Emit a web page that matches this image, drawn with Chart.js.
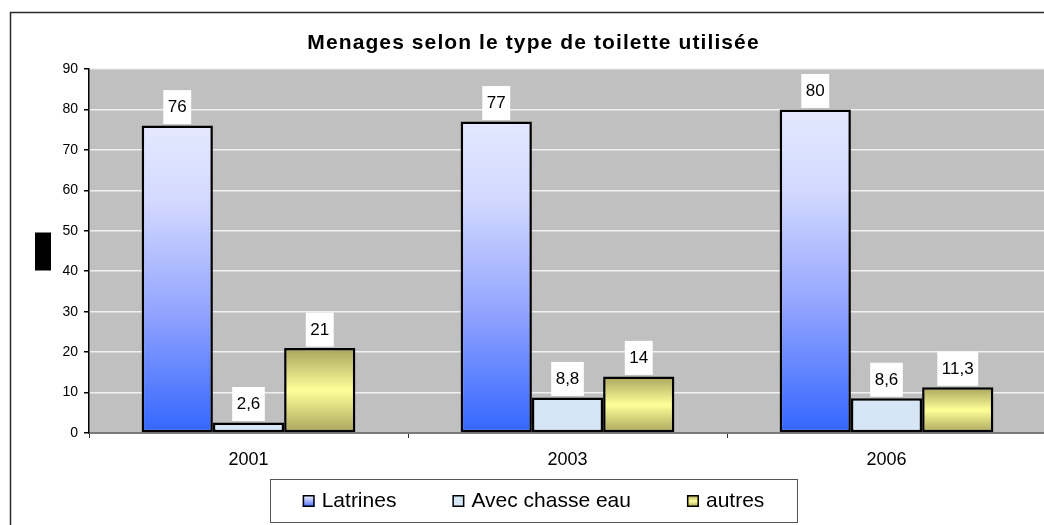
<!DOCTYPE html>
<html>
<head>
<meta charset="utf-8">
<script src="https://cdn.jsdelivr.net/npm/chart.js@4/dist/chart.umd.min.js"></script>
<style>
html,body{margin:0;padding:0;overflow:hidden;background:#fff;width:1044px;height:525px;}
#wrap{position:absolute;left:0;top:0;width:1067px;height:525px;}
</style>
</head>
<body>
<div id="wrap"><canvas id="c" width="1067" height="525"></canvas></div>
<script>
const categories = ['2001', '2003', '2006'];
const latrines = [76, 77, 80];
const chasseEau = [2.6, 8.8, 8.6];
const autres = [21, 14, 11.3];
const seriesNames = ['Latrines', 'Avec chasse eau', 'autres'];
const yMin = 0, yMax = 90, yStep = 10;
const titleText = 'Menages selon le type de toilette utilisée';

const FONT = "'Liberation Sans', Arial, sans-serif";
const blueStops = [[0, '#E4E8FF'], [0.25, '#D2D9FF'], [0.6, '#94A5FF'], [1, '#3366FF']];
const yellowStops = [[0, '#A8A45C'], [0.5, '#FFFF99'], [1, '#A8A45C']];
const chasseColor = '#D7E6F6';

function makeGrad(c, top, bottom, stops) {
  const g = c.createLinearGradient(0, top, 0, bottom);
  stops.forEach(s => g.addColorStop(s[0], s[1]));
  return g;
}
function barGrad(stops) {
  return function (context) {
    const chart = context.chart;
    if (!chart.chartArea || context.raw === undefined) return stops[Math.floor(stops.length / 2)][1];
    const y = chart.scales.y;
    const top = y.getPixelForValue(context.raw);
    const bottom = y.getPixelForValue(0);
    return makeGrad(chart.ctx, top, bottom, stops);
  };
}

const decor = {
  id: 'decor',
  beforeDraw(chart) {
    const c = chart.ctx, a = chart.chartArea;
    c.save();
    c.fillStyle = '#C0C0C0';
    c.fillRect(a.left, a.top, a.right - a.left, a.bottom - a.top);
    c.restore();
  },
  afterDatasetsDraw(chart) {
    const c = chart.ctx;
    c.save();
    c.font = '17px ' + FONT;
    c.textAlign = 'center';
    c.textBaseline = 'alphabetic';
    chart.data.datasets.forEach((ds, di) => {
      const meta = chart.getDatasetMeta(di);
      meta.data.forEach((el, i) => {
        const txt = String(ds.data[i]).replace('.', ',');
        const w = c.measureText(txt).width + 9;
        c.fillStyle = '#FFFFFF';
        c.fillRect(el.x - w / 2, el.y - 35.5, w, 34);
        c.fillStyle = '#000000';
        c.fillText(txt, el.x, el.y - 13.5);
      });
    });
    c.restore();
  },
  afterDraw(chart) {
    const c = chart.ctx, a = chart.chartArea;
    const W = chart.width;
    const cx = W / 2;
    c.save();
    c.strokeStyle = '#2A2A2A';
    c.lineWidth = 1.5;
    c.strokeRect(10.5, 12.5, W - 21, 600);
    c.fillStyle = '#000';
    c.font = 'bold 21px ' + FONT;
    c.textAlign = 'center';
    c.textBaseline = 'alphabetic';
    try { c.letterSpacing = '1.1px'; } catch (e) {}
    c.fillText(titleText, cx, 48.5);
    try { c.letterSpacing = '0px'; } catch (e) {}
    const midY = (a.top + a.bottom) / 2;
    c.fillStyle = '#000';
    c.fillRect(a.left - 54, midY - 18.5, 16, 38);
    const boxW = 527, boxTop = 479, boxH = 43;
    c.strokeStyle = '#555';
    c.lineWidth = 1;
    c.strokeRect(Math.round(cx - boxW / 2) + 0.5, boxTop + 0.5, boxW, boxH);
    c.font = '21px ' + FONT;
    c.textAlign = 'left';
    const mk = 12, gapT = 7, gapI = 56;
    const widths = seriesNames.map(n => mk + gapT + c.measureText(n).width);
    const total = widths.reduce((s, v) => s + v, 0) + gapI * (widths.length - 1);
    let x = cx - total / 2;
    const mTop = 495;
    const fills = [
      makeGrad(c, mTop, mTop + mk, blueStops),
      chasseColor,
      makeGrad(c, mTop, mTop + mk, yellowStops)
    ];
    seriesNames.forEach((n, i) => {
      c.fillStyle = fills[i];
      c.fillRect(x, mTop, mk, mk);
      c.strokeStyle = '#000';
      c.lineWidth = 1.5;
      c.strokeRect(x + 0.75, mTop + 0.75, mk - 1.5, mk - 1.5);
      c.fillStyle = '#000';
      c.fillText(n, x + mk + gapT, 506.5);
      x += widths[i] + gapI;
    });
    c.restore();
  }
};

new Chart(document.getElementById('c'), {
  type: 'bar',
  data: {
    labels: categories,
    datasets: [
      { label: seriesNames[0], data: latrines, backgroundColor: barGrad(blueStops), borderColor: '#000', borderWidth: 2.5, borderSkipped: false },
      { label: seriesNames[1], data: chasseEau, backgroundColor: chasseColor, borderColor: '#000', borderWidth: 2.5, borderSkipped: false },
      { label: seriesNames[2], data: autres, backgroundColor: barGrad(yellowStops), borderColor: '#000', borderWidth: 2.5, borderSkipped: false }
    ]
  },
  options: {
    responsive: false,
    animation: false,
    events: [],
    layout: { padding: { left: 39, top: 69, right: 21, bottom: 52 } },
    datasets: { bar: { categoryPercentage: 0.67, barPercentage: 1.0 } },
    plugins: { legend: { display: false }, title: { display: false }, tooltip: { enabled: false } },
    scales: {
      x: {
        afterFit(s) { s.height = 40; },
        grid: { display: true, drawOnChartArea: false, offset: true, tickLength: 5, tickColor: '#333', lineWidth: 1 },
        border: { display: true, color: '#7A7A7A', width: 2 },
        ticks: { color: '#000', font: { family: FONT, size: 18 }, padding: 11 }
      },
      y: {
        min: yMin, max: yMax,
        afterFit(s) { s.width = 50; },
        grid: { color: '#F0F0F0', lineWidth: 1.5, tickLength: 5, tickColor: '#000', drawTicks: true },
        border: { display: true, color: '#000', width: 1.5 },
        ticks: { stepSize: yStep, color: '#000', font: { family: FONT, size: 14 }, padding: 6 }
      }
    }
  },
  plugins: [decor]
});
</script>
</body>
</html>
